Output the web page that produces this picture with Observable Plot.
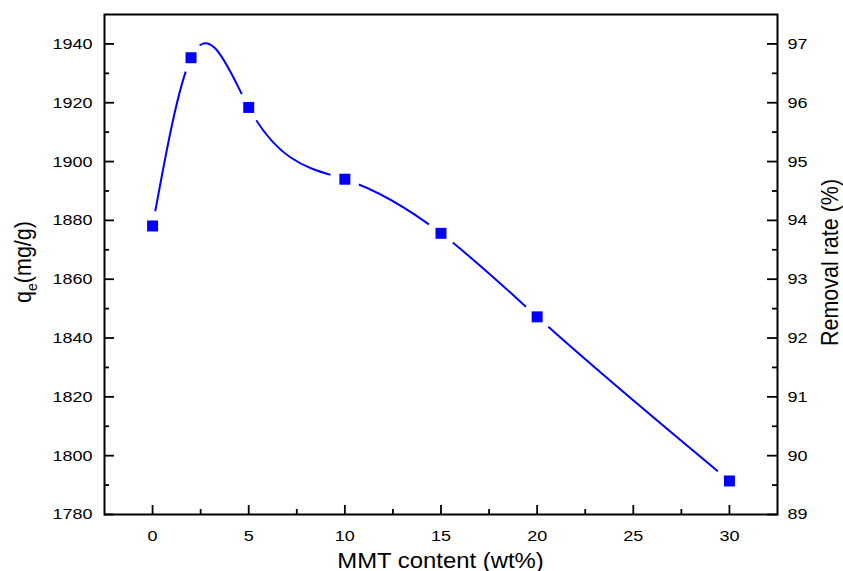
<!DOCTYPE html>
<html>
<head>
<meta charset="utf-8">
<script src="https://cdn.jsdelivr.net/npm/d3@7"></script>
<script src="https://cdn.jsdelivr.net/npm/@observablehq/plot@0.6"></script>
<style>
  html, body { margin: 0; padding: 0; background: #fff; }
  #chart svg { display: block; }
</style>
</head>
<body>
<div id="chart"></div>
<script>
// Adsorption capacity vs. MMT loading
const mmtContent = [0, 2, 5, 10, 15, 20, 30];
const qeValues = [1878.1, 1935.3, 1918.4, 1894.0, 1875.6, 1847.2, 1791.4];

// Axis ticks
const xTicks = [0, 5, 10, 15, 20, 25, 30];
const xMinorTicks = [2.5, 7.5, 12.5, 17.5, 22.5, 27.5];
const qeTicks = [1780, 1800, 1820, 1840, 1860, 1880, 1900, 1920, 1940];
const qeMinorTicks = [1790, 1810, 1830, 1850, 1870, 1890, 1910, 1930];
// Right axis: removal rate shares the qe positions (1 % per 20 mg/g)
const removalTicks = [89, 90, 91, 92, 93, 94, 95, 96, 97];

const W = 843, H = 571;
const mL = 104, mR = 66, mT = 14, mB = 57;
const plotW = W - mL - mR, plotH = H - mT - mB;

const points = mmtContent.map((x, i) => ({x, qe: qeValues[i]}));
const removalLabel = new Map(qeTicks.map((q, i) => [q, String(removalTicks[i])]));

// Natural cubic spline y(x) (not parametric), emitted as Bézier segments.
function NaturalX(context) { this._context = context; }
NaturalX.prototype = {
  areaStart() { this._line = 0; },
  areaEnd() { this._line = NaN; },
  lineStart() { this._x = []; this._y = []; },
  point(x, y) { this._x.push(+x); this._y.push(+y); },
  lineEnd() {
    const X = this._x, Y = this._y, n = X.length, c = this._context;
    if (n) {
      c.moveTo(X[0], Y[0]);
      if (n === 2) c.lineTo(X[1], Y[1]);
      else if (n > 2) {
        const h = [], d = [];
        for (let i = 0; i < n - 1; i++) { h[i] = X[i + 1] - X[i]; d[i] = (Y[i + 1] - Y[i]) / h[i]; }
        const M = new Array(n).fill(0);
        const a = [], b = [], cc = [], r = [];
        for (let i = 1; i < n - 1; i++) {
          a[i] = h[i - 1]; b[i] = 2 * (h[i - 1] + h[i]); cc[i] = h[i]; r[i] = 6 * (d[i] - d[i - 1]);
        }
        for (let i = 2; i < n - 1; i++) {
          const w = a[i] / b[i - 1];
          b[i] -= w * cc[i - 1];
          r[i] -= w * r[i - 1];
        }
        for (let i = n - 2; i >= 1; i--) M[i] = (r[i] - cc[i] * M[i + 1]) / b[i];
        const m = [];
        for (let i = 0; i < n - 1; i++) m[i] = d[i] - h[i] * (2 * M[i] + M[i + 1]) / 6;
        m[n - 1] = d[n - 2] + h[n - 2] * (M[n - 2] + 2 * M[n - 1]) / 6;
        for (let i = 0; i < n - 1; i++) {
          const t = h[i] / 3;
          c.bezierCurveTo(X[i] + t, Y[i] + m[i] * t, X[i + 1] - t, Y[i + 1] - m[i + 1] * t, X[i + 1], Y[i + 1]);
        }
      }
    }
    this._x = this._y = null;
  }
};
const curveNaturalX = context => new NaturalX(context);

const blue = "#0000ff";
const tickStyle = {stroke: "#000", strokeWidth: 1.8};

const svg = Plot.plot({
  width: W,
  height: H,
  marginLeft: mL,
  marginRight: mR,
  marginTop: mT,
  marginBottom: mB,
  style: {fontFamily: "'Liberation Sans', Arial, sans-serif", color: "#000", background: "#fff"},
  x: {domain: [-2.5, 32.5]},
  y: {domain: [1780, 1950]},
  marks: [
    // inward tick marks
    Plot.ruleY(qeTicks, {y: d => d, insetRight: plotW - 10, ...tickStyle}),
    Plot.ruleY(qeMinorTicks, {y: d => d, insetRight: plotW - 5, ...tickStyle}),
    Plot.ruleY(qeTicks, {y: d => d, insetLeft: plotW - 10, ...tickStyle}),
    Plot.ruleY(qeMinorTicks, {y: d => d, insetLeft: plotW - 5, ...tickStyle}),
    Plot.ruleX(xTicks, {x: d => d, insetTop: plotH - 9, ...tickStyle}),
    Plot.ruleX(xMinorTicks, {x: d => d, insetTop: plotH - 5, ...tickStyle}),
    // tick labels
    Plot.axisX(xTicks, {tickSize: 0, tickPadding: 15, fontSize: 15.5, label: null, tickFormat: d => String(d)}),
    Plot.axisY(qeTicks, {anchor: "left", tickSize: 0, tickPadding: 12, fontSize: 15.5, label: null, tickFormat: d => String(d)}),
    Plot.axisY(qeTicks, {anchor: "right", tickSize: 0, tickPadding: 10, fontSize: 15.5, label: null,
      tickFormat: d => removalLabel.get(d)}),
    // spline through the measurements, broken around each symbol
    Plot.line(points, {x: "x", y: "qe", curve: curveNaturalX, stroke: blue, strokeWidth: 2}),
    Plot.dot(points, {x: "x", y: "qe", r: 15, fill: "#fff", stroke: null}),
    Plot.dot(points, {x: "x", y: "qe", symbol: "square", r: 6.2, fill: blue, stroke: null}),
    Plot.frame({stroke: "#000", strokeWidth: 2})
  ]
});

// axis titles
const s = d3.select(svg);
const titleFont = "21.5px";
s.append("text")
  .attr("transform", `translate(${mL + plotW / 2},567.5) scale(1.11,1)`)
  .attr("text-anchor", "middle")
  .attr("font-size", titleFont)
  .attr("fill", "#000")
  .text("MMT content (wt%)");

const leftTitle = s.append("text")
  .attr("transform", `translate(31,262) scale(1.11,1) rotate(-90)`)
  .attr("text-anchor", "middle")
  .attr("font-size", titleFont)
  .attr("fill", "#000");
leftTitle.append("tspan").text("q");
leftTitle.append("tspan").attr("font-size", "14px").attr("dy", 5).text("e");
leftTitle.append("tspan").attr("dy", -5).text("(mg/g)");

s.append("text")
  .attr("transform", `translate(838,262.5) scale(1.11,1) rotate(-90)`)
  .attr("text-anchor", "middle")
  .attr("font-size", titleFont)
  .attr("fill", "#000")
  .text("Removal rate (%)");

// widen the tick label glyphs slightly, keeping each anchored in place
svg.querySelectorAll("g[aria-label$='tick label'] text").forEach(t => {
  const tr = t.getAttribute("transform");
  if (tr && tr.includes("translate") && !tr.includes("scale")) {
    t.setAttribute("transform", tr.replace(/(translate\([^)]*\))/, "$1 scale(1.16,1)"));
  }
});

document.getElementById("chart").appendChild(svg);
</script>
</body>
</html>
